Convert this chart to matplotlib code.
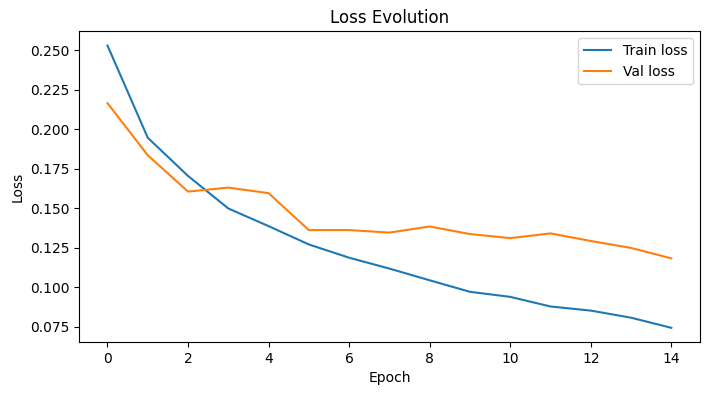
import numpy as np
import matplotlib.pyplot as plt

epochs = list(range(15))
train_loss = [0.2530, 0.1946, 0.1704, 0.1498, 0.1386, 0.1270, 0.1186, 0.1117, 0.1043,
              0.0970, 0.0938, 0.0877, 0.0851, 0.0806, 0.0742]
val_loss = [0.2165, 0.1835, 0.1605, 0.1630, 0.1595, 0.1361, 0.1361, 0.1345, 0.1384,
            0.1336, 0.1310, 0.1340, 0.1292, 0.1248, 0.1182]

fig, ax = plt.subplots(figsize=(7.08, 3.93), dpi=100)
fig.subplots_adjust(left=0.112, right=0.988, top=0.92, bottom=0.13)

ax.plot(epochs, train_loss, label='Train loss')
ax.plot(epochs, val_loss, label='Val loss')
ax.set_xlabel('Epoch')
ax.set_ylabel('Loss')
ax.set_title('Loss Evolution')
ax.set_xticks(np.arange(0, 15, 2))
ax.legend()

fig.savefig('out.png', dpi=100)
